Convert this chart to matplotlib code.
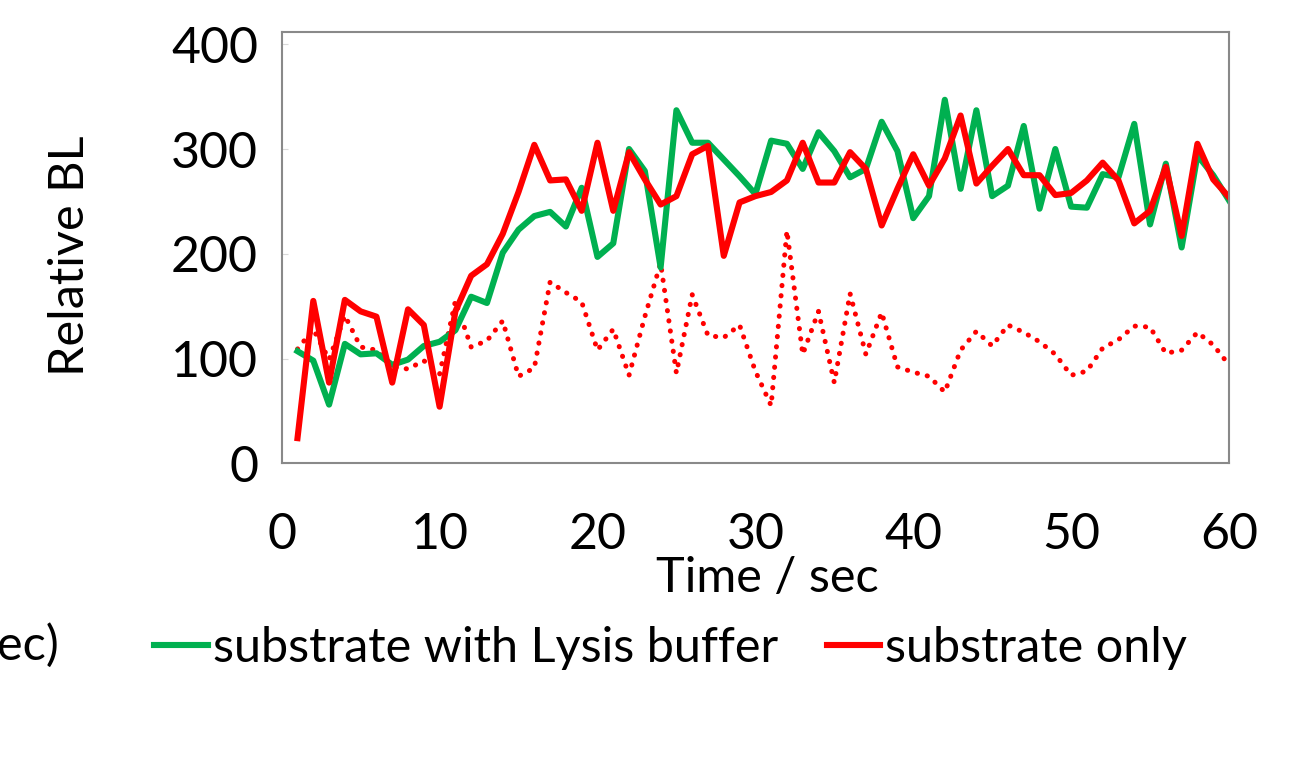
import numpy as np
import matplotlib
matplotlib.use("Agg")
import matplotlib.pyplot as plt

plt.rcParams['font.family'] = ['Lato', 'DejaVu Sans']

# time axis (sec)
time = np.arange(1, 61)

# substrate with Lysis buffer (green)
lysis = [107, 98, 56, 114, 104, 105, 94, 99, 112, 116,
         127, 159, 153, 201, 223, 236, 240, 226, 263, 197,
         210, 300, 279, 187, 337, 306, 306, 290, 274, 257,
         308, 305, 281, 316, 298, 273, 281, 326, 298, 234,
         255, 347, 262, 337, 255, 265, 322, 243, 300, 245,
         244, 276, 273, 324, 228, 286, 206, 294, 275, 251]

# substrate only (red solid)
substrate = [24, 155, 77, 156, 145, 140, 77, 147, 132, 54,
             145, 179, 190, 219, 259, 304, 270, 271, 241, 306,
             241, 297, 271, 247, 255, 295, 303, 198, 249, 255,
             259, 270, 306, 268, 268, 297, 281, 227, 262, 295,
             265, 291, 332, 267, 284, 300, 275, 275, 256, 258,
             270, 287, 270, 229, 241, 283, 217, 305, 271, 254]

# red dotted series (no legend entry)
dotted = [109, 128, 99, 141, 111, 108, 92, 90, 98, 85,
          155, 111, 117, 136, 83, 91, 173, 163, 154, 108,
          128, 84, 140, 191, 86, 161, 122, 120, 132, 88,
          55, 222, 104, 145, 77, 162, 104, 144, 92, 87,
          83, 68, 108, 126, 112, 132, 125, 116, 104, 84,
          88, 110, 118, 131, 130, 105, 108, 125, 113, 94]

labels = ['substrate with Lysis buffer', 'substrate only']
green = '#00B050'
red = '#FF0000'

fig = plt.figure(figsize=(13.03, 7.58), dpi=100)
ax = fig.add_axes([0.2162, 0.3888, 0.727, 0.5694])

ax.plot(time, dotted, color=red, lw=3.6, linestyle=(0, (0.05, 2.0)),
        dash_capstyle='round')
l1, = ax.plot(time, lysis, color=green, lw=4.4, solid_joinstyle='round')
l2, = ax.plot(time, substrate, color=red, lw=4.4, solid_joinstyle='round')

ax.set_xlim(0, 60)
ax.set_ylim(0, 412)
ax.set_xticks(range(0, 61, 10))
ax.set_yticks(range(0, 401, 100))

for s in ax.spines.values():
    s.set_color('#898989')
    s.set_linewidth(1.5)

ax.tick_params(axis='y', direction='in', length=4, color='#d9d9d9',
               labelsize=36, pad=17)
ax.tick_params(axis='x', length=0, labelsize=36, pad=35)

fig.text(767 / 1303, 1 - 578 / 758, 'Time / sec', fontsize=35,
         ha='center', va='center')
fig.text(70 / 1303, 1 - 256 / 758, 'Relative BL', fontsize=35,
         rotation=90, ha='center', va='center')
fig.text(-0.002, 1 - 645 / 758, 'ec)', fontsize=35, ha='left', va='center')

fig.legend([l1, l2], labels, loc='center left',
           bbox_to_anchor=(135 / 1303, 1 - 648 / 758), ncol=2,
           frameon=False, fontsize=35, handlelength=1.1,
           handletextpad=0.1, columnspacing=1.0, borderaxespad=0)

fig.savefig('out.png', dpi=100)
